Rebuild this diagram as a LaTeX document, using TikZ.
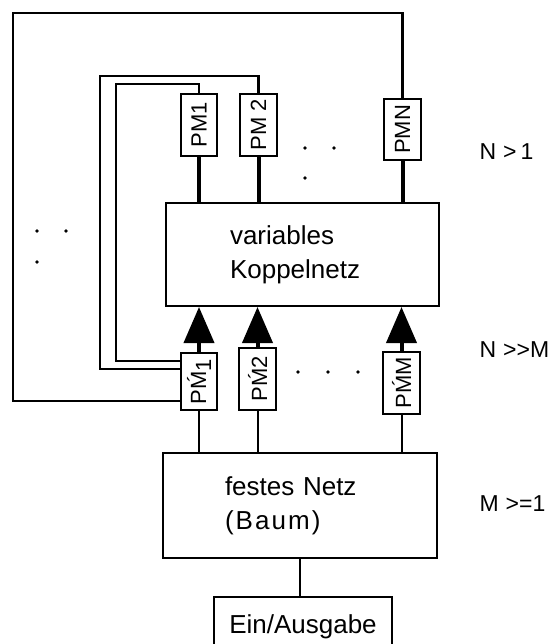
\documentclass[tikz,border=0pt]{standalone}
\usepackage{fontspec}
\setmainfont{Liberation Sans}
\usetikzlibrary{arrows.meta,positioning,calc}

\begin{document}
\begin{tikzpicture}[x=1pt, y=-1pt,
    netz/.style={rectangle, draw, line width=2pt, inner sep=0pt, align=left, font=\fontsize{26}{34}\selectfont},
    pmbox/.style={rectangle, draw, line width=1.8pt, inner sep=0pt, font=\fontsize{22}{24}\selectfont},
    link/.style={line width=2pt},
    bus/.style={line width=4pt},
    rueck/.style={line width=2.4pt},
    pfeil/.style={line width=4pt, -{Triangle[length=36pt, width=30pt]}},
    dot/.style={circle, fill, inner sep=0pt, minimum size=3.6pt},
    bound/.style={anchor=west, font=\fontsize{23}{26}\selectfont}
]
    \useasboundingbox (0,0) rectangle (553,644);
    \clip (0,0) rectangle (553,644);

    % Netze
    \node[netz, minimum width=273pt, minimum height=103pt, text width=145pt] (kn) at (302.5,254.5) {variables\\Koppelnetz};
    \node[netz, minimum width=274pt, minimum height=105pt, text width=150pt] (fn) at (300,505.5) {festes Netz\\{\addfontfeatures{LetterSpace=8}(Baum)}};
    \node[netz, minimum width=178pt, minimum height=60pt] (io) at (303,627) {Ein/Ausgabe};

    % Prozessormodule oben
    \node[pmbox, minimum width=36pt, minimum height=62pt] (pm1) at (199,125) {\rotatebox{90}{PM1}};
    \node[pmbox, minimum width=37pt, minimum height=62pt] (pm2) at (258.5,125) {\rotatebox{90}{PM 2}};
    \node[pmbox, minimum width=37pt, minimum height=61pt] (pmn) at (402.5,129.5) {\rotatebox{90}{PMN}};

    % Prozessormodule unten
    \node[pmbox, minimum width=36pt, minimum height=57pt] (pmx1) at (199,381.5) {\rotatebox{90}{P\'{M}\raisebox{-5pt}{1}}};
    \node[pmbox, minimum width=37pt, minimum height=62pt] (pmx2) at (257.5,379) {\rotatebox{90}{P\'{M}2}};
    \node[pmbox, minimum width=37pt, minimum height=62pt] (pmxm) at (401.5,383) {\rotatebox{90}{P\'{M}M}};

    % Punkte
    \node[dot] (d1) at (305,148) {};
    \node[dot] (d2) at (334,148) {};
    \node[dot] (d3) at (305,178) {};
    \node[dot] (d4) at (37,231) {};
    \node[dot] (d5) at (66,231) {};
    \node[dot] (d6) at (37,262) {};
    \node[dot] (d7) at (298,372) {};
    \node[dot] (d8) at (328,372) {};
    \node[dot] (d9) at (358,372) {};

    % Bedingungen
    \node[bound] (nb1) at (476,152) {N\hspace{7pt}>\hspace{4pt}1};
    \node[bound] (nb2) at (476,350) {N\hspace{7pt}>\kern0pt>\kern0ptM};
    \node[bound] (nb3) at (476,504) {M\hspace{7pt}>=1};

    % Verbindungen
    \foreach \p in {pm1,pm2,pmn}
        \draw[bus] (\p.south) -- (\p.south |- kn.north);
    \foreach \p in {pmx1,pmx2,pmxm} {
        \draw[pfeil] (\p.north) -- (\p.north |- kn.south);
        \draw[link] (\p.south) -- (\p.south |- fn.north);
    }
    \draw[link] (fn.south) -- (fn.south |- io.north);

    % Rueckfuehrungen
    \coordinate (lc) at (13,13);
    \coordinate (lb) at (100,76);
    \coordinate (la) at (116,84);
    \draw[rueck] (pmn.north) |- (lc) |- ([yshift=10pt]pmx1.south west);
    \draw[rueck] (pm2.north) |- (lb) |- ([yshift=-17pt]pmx1.north west);
    \draw[rueck] (pm1.north) |- (la) |- ([yshift=-9pt]pmx1.north west);
\end{tikzpicture}
\end{document}
